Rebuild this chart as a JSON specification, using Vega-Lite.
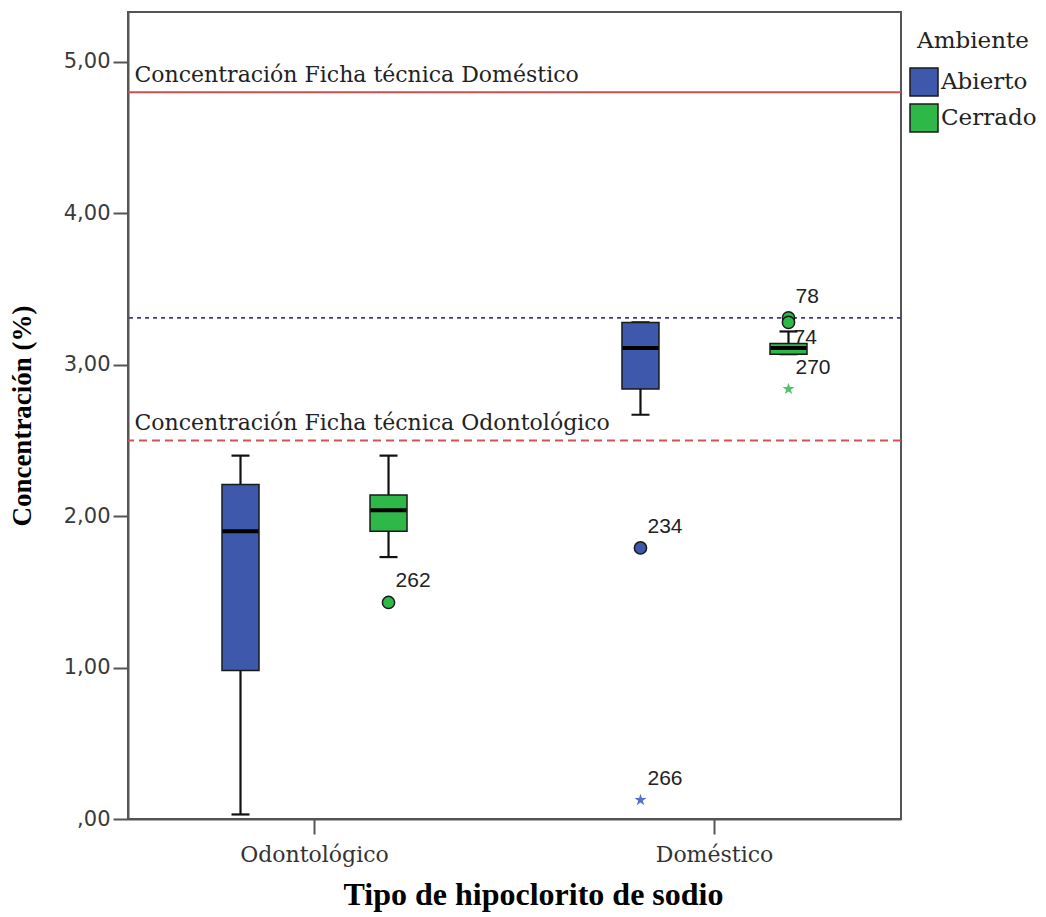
{
  "$schema": "https://vega.github.io/schema/vega-lite/v6.json",
  "width": 773,
  "height": 807,
  "autosize": "none",
  "padding": {"left": 128, "top": 12, "right": 145, "bottom": 98},
  "background": "white",
  "config": {
    "font": "DejaVu Serif",
    "view": {"stroke": "#555555", "strokeWidth": 2}
  },
  "datasets": {
    "cajas": [
      {"tipo": "Odontológico", "ambiente": "Abierto", "minimo": 0.03, "q1": 0.98, "mediana": 1.90, "q3": 2.21, "maximo": 2.40},
      {"tipo": "Odontológico", "ambiente": "Cerrado", "minimo": 1.73, "q1": 1.90, "mediana": 2.04, "q3": 2.14, "maximo": 2.40},
      {"tipo": "Doméstico", "ambiente": "Abierto", "minimo": 2.67, "q1": 2.84, "mediana": 3.11, "q3": 3.28, "maximo": 3.28},
      {"tipo": "Doméstico", "ambiente": "Cerrado", "minimo": 3.07, "q1": 3.07, "mediana": 3.11, "q3": 3.14, "maximo": 3.22}
    ],
    "atipicos": [
      {"tipo": "Odontológico", "ambiente": "Cerrado", "valor": 1.43, "caso": "262", "clase": "atipico"},
      {"tipo": "Doméstico", "ambiente": "Abierto", "valor": 1.79, "caso": "234", "clase": "atipico"},
      {"tipo": "Doméstico", "ambiente": "Abierto", "valor": 0.125, "caso": "266", "clase": "extremo"},
      {"tipo": "Doméstico", "ambiente": "Cerrado", "valor": 3.31, "caso": "78", "clase": "atipico"},
      {"tipo": "Doméstico", "ambiente": "Cerrado", "valor": 3.28, "caso": "74", "clase": "atipico"},
      {"tipo": "Doméstico", "ambiente": "Cerrado", "valor": 2.84, "caso": "270", "clase": "extremo"}
    ],
    "referencias": [
      {"valor": 4.80, "etiqueta": "Concentración Ficha técnica Doméstico", "linea": "domestico"},
      {"valor": 3.31, "etiqueta": "", "linea": "azul"},
      {"valor": 2.50, "etiqueta": "Concentración Ficha técnica Odontológico", "linea": "odontologico"}
    ]
  },
  "encoding": {
    "x": {
      "field": "tipo",
      "type": "nominal",
      "sort": ["Odontológico", "Doméstico"],
      "scale": {"domain": ["Odontológico", "Doméstico"], "paddingInner": 0.1, "paddingOuter": 0.0163},
      "axis": {
        "title": "Tipo de hipoclorito de sodio",
        "titleFont": "Liberation Serif",
        "titleFontSize": 32,
        "titleFontWeight": "bold",
        "titleColor": "#000000",
        "titlePadding": 14,
        "titleX": 405,
        "labelAngle": 0,
        "labelFont": "DejaVu Serif",
        "labelFontSize": 22,
        "labelColor": "#333333",
        "labelPadding": 10,
        "tickSize": 15,
        "tickColor": "#555555",
        "tickWidth": 2,
        "domainColor": "#555555",
        "domainWidth": 2
      }
    },
    "xOffset": {
      "field": "ambiente",
      "type": "nominal",
      "scale": {"domain": ["Abierto", "Cerrado"], "paddingInner": 0, "paddingOuter": 0.216}
    }
  },
  "layer": [
    {
      "data": {"name": "referencias"},
      "transform": [{"filter": "datum.linea === 'domestico'"}],
      "mark": {"type": "rule", "color": "#c9504f", "strokeWidth": 2},
      "encoding": {
        "x": null,
        "xOffset": null,
        "y": {
          "field": "valor",
          "type": "quantitative",
          "title": "Concentración (%)",
          "scale": {"domain": [0, 5.33], "nice": false, "zero": false},
          "axis": {
            "values": [0, 1, 2, 3, 4, 5],
            "labelExpr": "datum.value === 0 ? ',00' : replace(format(datum.value, '.2f'), '.', ',')",
            "grid": false,
            "labelFont": "DejaVu Sans",
            "labelFontSize": 21,
            "labelColor": "#3a3a3a",
            "labelPadding": 3,
            "tickSize": 15,
            "tickColor": "#555555",
            "tickWidth": 2,
            "domainColor": "#555555",
            "domainWidth": 2,
            "titleFont": "Liberation Serif",
            "titleFontSize": 27,
            "titleFontWeight": "bold",
            "titleColor": "#000000",
            "titlePadding": 27
          }
        }
      }
    },
    {
      "data": {"name": "referencias"},
      "transform": [{"filter": "datum.linea === 'azul'"}],
      "mark": {"type": "rule", "color": "#3a3aa0", "strokeWidth": 1.7, "strokeDash": [4, 4]},
      "encoding": {"x": null, "xOffset": null, "y": {"field": "valor", "type": "quantitative", "title": "Concentración (%)"}}
    },
    {
      "data": {"name": "referencias"},
      "transform": [{"filter": "datum.linea === 'odontologico'"}],
      "mark": {"type": "rule", "color": "#d05252", "strokeWidth": 2, "strokeDash": [8, 5]},
      "encoding": {"x": null, "xOffset": null, "y": {"field": "valor", "type": "quantitative", "title": "Concentración (%)"}}
    },
    {
      "data": {"name": "referencias"},
      "transform": [{"filter": "datum.etiqueta !== ''"}],
      "mark": {"type": "text", "align": "left", "baseline": "bottom", "dy": -5, "fontSize": 22, "font": "DejaVu Serif", "color": "#222222"},
      "encoding": {
        "x": {"datum": "Odontológico", "bandPosition": 0},
        "xOffset": null,
        "y": {"field": "valor", "type": "quantitative", "title": "Concentración (%)"},
        "text": {"field": "etiqueta"}
      }
    },
    {
      "data": {"name": "cajas"},
      "mark": {"type": "rule", "color": "#111111", "strokeWidth": 2.2},
      "encoding": {
        "y": {"field": "minimo", "type": "quantitative", "title": "Concentración (%)"},
        "y2": {"field": "maximo"}
      }
    },
    {
      "data": {"name": "cajas"},
      "mark": {"type": "tick", "color": "#111111", "thickness": 2.2, "size": 18, "opacity": 1},
      "encoding": {"y": {"field": "minimo", "type": "quantitative", "title": "Concentración (%)"}}
    },
    {
      "data": {"name": "cajas"},
      "mark": {"type": "tick", "color": "#111111", "thickness": 2.2, "size": 18, "opacity": 1},
      "encoding": {"y": {"field": "maximo", "type": "quantitative", "title": "Concentración (%)"}}
    },
    {
      "data": {"name": "cajas"},
      "mark": {"type": "bar", "size": 37, "stroke": "#1a1a1a", "strokeWidth": 1.5, "opacity": 1},
      "encoding": {
        "y": {"field": "q1", "type": "quantitative", "title": "Concentración (%)"},
        "y2": {"field": "q3"},
        "color": {
          "field": "ambiente",
          "type": "nominal",
          "scale": {"domain": ["Abierto", "Cerrado"], "range": ["#3E58AC", "#2EB848"]},
          "legend": {
            "title": "Ambiente",
            "orient": "none",
            "legendX": 781,
            "legendY": 18,
            "titleFont": "DejaVu Serif",
            "titleFontSize": 23,
            "titleFontWeight": "normal",
            "titleColor": "#222222",
            "titlePadding": 14,
            "titleAnchor": "middle",
            "labelFont": "DejaVu Serif",
            "labelFontSize": 23,
            "labelColor": "#222222",
            "labelOffset": 2,
            "symbolType": "square",
            "symbolSize": 784,
            "symbolStrokeColor": "#1a1a1a",
            "symbolStrokeWidth": 1.5,
            "symbolOpacity": 1,
            "rowPadding": 2
          }
        }
      }
    },
    {
      "data": {"name": "cajas"},
      "mark": {"type": "tick", "color": "#000000", "thickness": 4, "size": 36, "opacity": 1},
      "encoding": {"y": {"field": "mediana", "type": "quantitative", "title": "Concentración (%)"}}
    },
    {
      "data": {"name": "atipicos"},
      "transform": [{"filter": "datum.clase === 'atipico'"}],
      "mark": {"type": "point", "shape": "circle", "filled": true, "size": 150, "stroke": "#1a1a1a", "strokeWidth": 1.5, "opacity": 1},
      "encoding": {
        "y": {"field": "valor", "type": "quantitative", "title": "Concentración (%)"},
        "fill": {"condition": {"test": "datum.ambiente === 'Abierto'", "value": "#3E58AC"}, "value": "#2EB848"}
      }
    },
    {
      "data": {"name": "atipicos"},
      "transform": [{"filter": "datum.clase === 'extremo'"}],
      "mark": {"type": "point", "shape": "M0,-1L0.225,-0.31L0.951,-0.309L0.363,0.118L0.588,0.809L0,0.382L-0.588,0.809L-0.363,0.118L-0.951,-0.309L-0.225,-0.31Z", "filled": true, "size": 160, "opacity": 1, "strokeWidth": 0},
      "encoding": {
        "y": {"field": "valor", "type": "quantitative", "title": "Concentración (%)"},
        "fill": {"condition": {"test": "datum.ambiente === 'Abierto'", "value": "#5670cc"}, "value": "#4cc467"}
      }
    },
    {
      "data": {"name": "atipicos"},
      "transform": [{"filter": "datum.caso !== '74'"}],
      "mark": {"type": "text", "align": "left", "baseline": "middle", "dx": 7, "dy": -21, "font": "Liberation Sans", "fontSize": 21, "color": "#222222"},
      "encoding": {
        "y": {"field": "valor", "type": "quantitative", "title": "Concentración (%)"},
        "text": {"field": "caso"}
      }
    },
    {
      "data": {"name": "atipicos"},
      "transform": [{"filter": "datum.caso === '74'"}],
      "mark": {"type": "text", "align": "left", "baseline": "middle", "dx": 5, "dy": 16, "font": "Liberation Sans", "fontSize": 21, "color": "#222222"},
      "encoding": {
        "y": {"field": "valor", "type": "quantitative", "title": "Concentración (%)"},
        "text": {"field": "caso"}
      }
    }
  ]
}
